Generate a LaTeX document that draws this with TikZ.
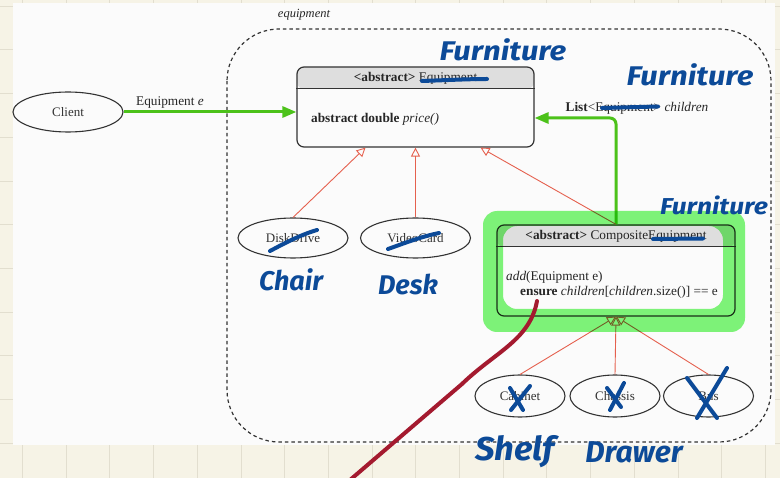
\documentclass[tikz,border=0pt]{standalone}
\usepackage{fontspec}
\setmainfont{Liberation Serif}
\newfontfamily\handfont{Fira Sans}
\usetikzlibrary{shapes.geometric,arrows.meta}
\definecolor{cream}{HTML}{F6F3E6}
\definecolor{gridc}{HTML}{E2DECF}
\definecolor{panel}{HTML}{FBFBFB}
\definecolor{edgec}{HTML}{333333}
\definecolor{hdrc}{HTML}{DEDEDE}
\definecolor{gen}{HTML}{E5604E}
\definecolor{assoc}{HTML}{4CC21A}
\definecolor{ink}{HTML}{0C4A98}
\definecolor{hilite}{HTML}{80F67A}
\definecolor{maroonink}{HTML}{A41A2F}
\begin{document}
\begin{tikzpicture}[x=1pt,y=-1pt,
  usecase/.style={ellipse, draw=edgec, line width=1.1pt, minimum width=110pt, minimum height=40pt, inner sep=0pt, text=edgec, font=\fontsize{13}{15}\selectfont},
  smallcase/.style={usecase, minimum width=90pt, minimum height=42pt},
  classbox/.style={rectangle, rounded corners=7pt, draw=edgec, line width=1.2pt, inner sep=0pt,
    path picture={\fill[hdrc] (path picture bounding box.north west) rectangle ([yshift=-22pt]path picture bounding box.north east);}},
  lbl/.style={inner sep=0pt, text=black!85, font=\fontsize{13.3}{15}\selectfont},
  assocarrow/.style={draw=assoc, line width=3pt, -{Triangle[length=14pt,width=11pt]}},
  genarrow/.style={draw=gen, line width=0.9pt, -{Triangle[open,length=9pt,width=9pt]}},
  pkg/.style={draw=edgec, line width=1.2pt, dash pattern=on 3.5pt off 3pt, rounded corners=52pt},
  strike/.style={draw=ink, line width=4pt, line cap=round},
  hand/.style={inner sep=0pt, text=ink, font=\handfont\bfseries\itshape\fontsize{27}{29}\selectfont},
  curve/.style={draw=maroonink, line width=4pt, line cap=round}
]
\useasboundingbox (0,0) rectangle (780,478);
% page background with grid
\fill[cream] (0,0) rectangle (780,478);
\foreach \i in {0,...,17} \draw[gridc, line width=1pt] (22.5+43.7*\i,0) -- (22.5+43.7*\i,478);
\foreach \j in {0,...,10} \draw[gridc, line width=1pt] (0,6.3+43.7*\j) -- (780,6.3+43.7*\j);
\fill[panel] (13,3) rectangle (775,445);

% package frame
\draw[pkg] (227,29) rectangle (771,442);
\node[lbl, font=\fontsize{12.5}{14}\selectfont\itshape] (pkglabel) at (304,15) {equipment};

% nodes
\node[usecase] (client) at (68,112) {Client};
\node[classbox, minimum width=237pt, minimum height=80pt] (eq) at (415.5,107) {};
\draw[edgec, line width=1.2pt] ([yshift=-22pt]eq.north west) -- ([yshift=-22pt]eq.north east);
\node[lbl] (eqhead) at (415.5,78) {\textbf{<abstract>} Equipment};
\node[lbl, anchor=west] (eqbody) at (311,119) {\textbf{abstract double} \textit{price()}};

\node[classbox, minimum width=238pt, minimum height=91pt] (comp) at (616,270.5) {};
\draw[edgec, line width=1.2pt] ([yshift=-22pt]comp.north west) -- ([yshift=-22pt]comp.north east);
\node[lbl] (comphead) at (616,236) {\textbf{<abstract>} CompositeEquipment};
\node[lbl, anchor=west] (compbody1) at (506,277) {\textit{add}(Equipment e)};
\node[lbl, anchor=west] (compbody2) at (520,292) {\textbf{ensure} \textit{children}[\textit{children}.size()] == e};

\node[usecase] (dd) at (293,238) {DiskDrive};
\node[usecase] (vc) at (415.5,238) {VideoCard};
\node[smallcase] (cab) at (520,396) {Cabinet};
\node[smallcase] (cha) at (615,396) {Chassis};
\node[smallcase] (bus) at (708.5,396) {Bus};

% connectors
\draw[assocarrow] (client.east) -- (client.east -| eq.west);
\node[lbl] (elbl) at (170,103) {Equipment \textit{e}};
\draw[assocarrow, rounded corners=6pt] (comp.north) |- ([yshift=-11pt]eq.east);
\node[lbl] (listlbl) at (637,108) {\textbf{List}<Equipment> \textit{children}};

\draw[genarrow] (dd.north) -- ([xshift=-50pt]eq.south);
\draw[genarrow] (vc.north) -- (vc.north |- eq.south);
\draw[genarrow] (comp.north) -- ([xshift=65pt]eq.south);
\draw[genarrow] (cab.north) -- (comp.south);
\draw[genarrow] (cha.north) -- (comp.south);
\draw[genarrow] (bus.north) -- (comp.south);

% highlighter around CompositeEquipment
\begin{scope}[blend mode=multiply]
\fill[hilite, even odd rule, rounded corners=14pt]
  (483,211) rectangle (745,332)
  (503,226) rectangle (723,309);
\end{scope}

% hand annotations
\draw[strike] (422,81) .. controls (450,80) and (470,79) .. (487,79);
\draw[strike] (602,108) -- (658,106.5);
\draw[strike] (653,239) -- (703,238.5);
\draw[strike] (270,251) .. controls (285,243) and (300,235) .. (317,230);
\draw[strike] (388,249) .. controls (405,243) and (420,237) .. (439,233);
\draw[strike] (510,388) -- (523,410);
\draw[strike] (530,386) -- (511,410);
\draw[strike] (607,388) -- (621,407);
\draw[strike] (624,383) -- (610,410);
\draw[strike] (727,368) -- (697,418);
\draw[strike] (687,378) -- (717,418);

\node[hand] (furn1) at (503,50) {\scalebox{1.15}[1]{Furniture}};
\node[hand] (furn2) at (690,75) {\scalebox{1.15}[1]{Furniture}};
\node[hand, font=\handfont\bfseries\itshape\fontsize{23}{25}\selectfont] (furn3) at (714,205) {\scalebox{1.15}[1]{Furniture}};
\node[hand] (chair) at (291,280) {Chair};
\node[hand] (desk) at (408,284) {Desk};
\node[hand, font=\handfont\bfseries\itshape\fontsize{33}{35}\selectfont] (shelf) at (515,452) {\scalebox{1.05}[1]{Shelf}};
\node[hand, font=\handfont\bfseries\itshape\fontsize{30}{32}\selectfont] (drawer) at (634,452) {Drawer};

\coordinate (curvestart) at (537,301);
\coordinate (curveend) at (350,480);
\draw[curve] (curvestart) .. controls (530,340) and (495,352) .. (462,384) -- (curveend);
\end{tikzpicture}
\end{document}
